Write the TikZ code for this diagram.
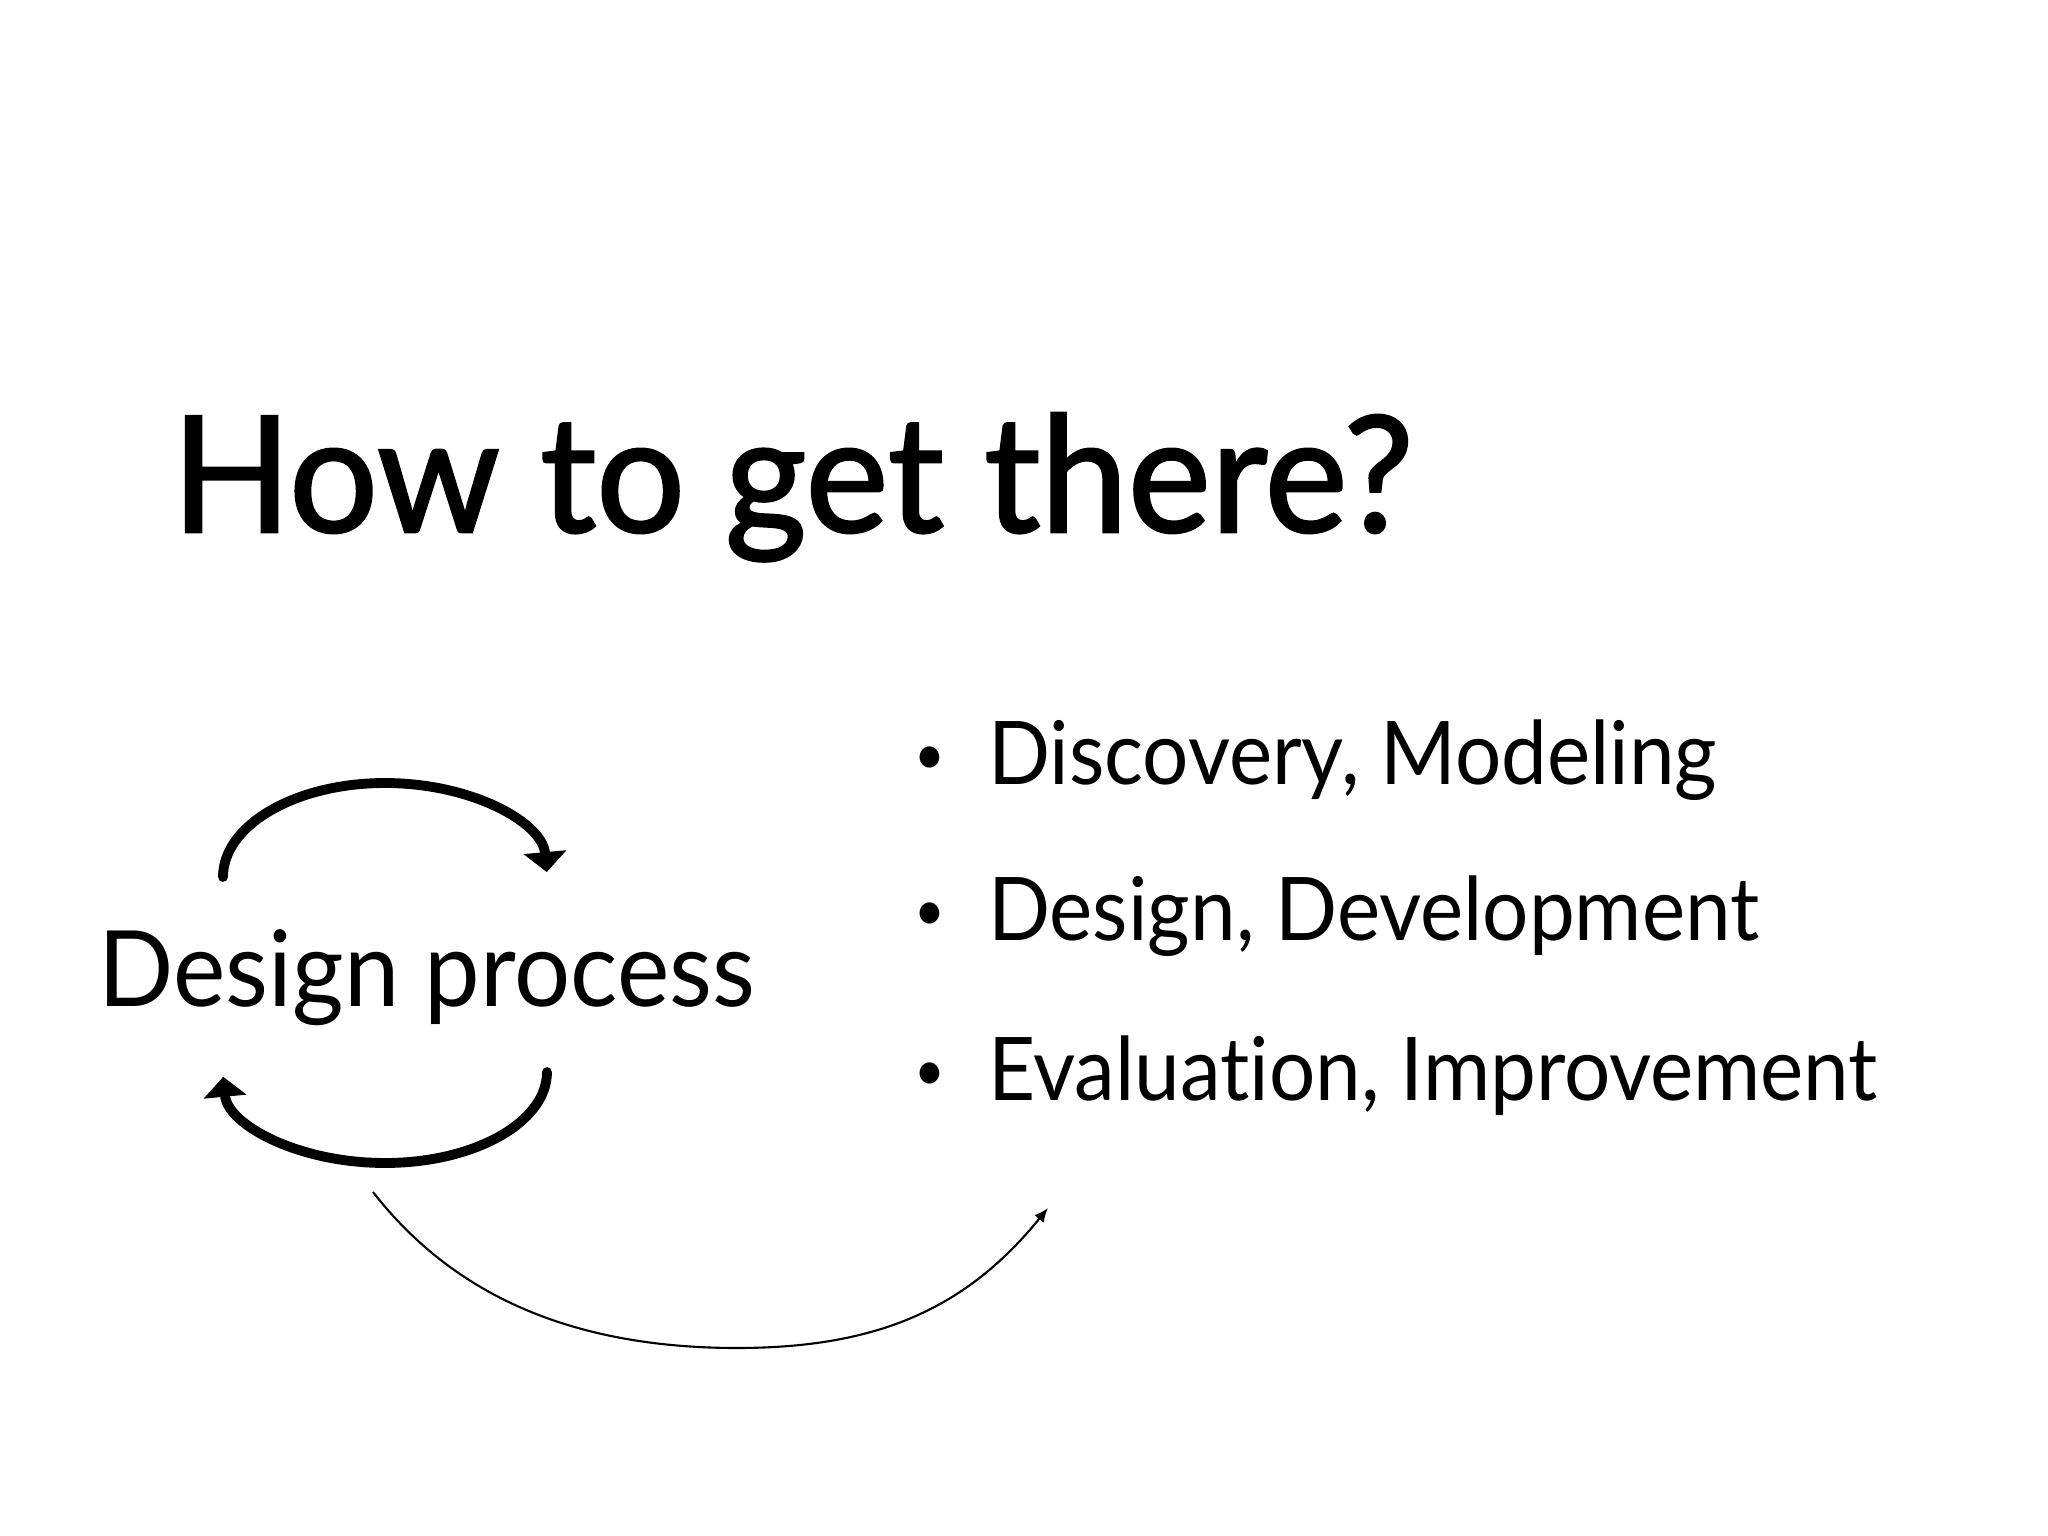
\documentclass[tikz,border=0pt]{standalone}
\usepackage{fontspec}
\setmainfont{Lato}[Ligatures=NoCommon]
\newfontfamily\headfont{Lato}[FakeBold=1.6,Ligatures=NoCommon]
\usepackage{tikz}
\usetikzlibrary{arrows.meta}
\usetikzlibrary{positioning}
\tikzstyle{heading}=[inner sep=0pt,anchor=base west,xscale=0.97,font=\headfont\fontsize{46}{50}\selectfont]
\tikzstyle{process}=[inner sep=0pt,anchor=base west,xscale=0.94,font=\fontsize{30}{34}\selectfont]
\tikzstyle{point}=[inner sep=0pt,anchor=base west,xscale=0.93,font=\fontsize{25}{30}\selectfont]
\tikzstyle{turn}=[-{Triangle[length=2mm,width=4.2mm]},line width=2.8pt,line cap=round]
\tikzstyle{suite}=[-{Latex[length=1.4mm,width=1.2mm]},line width=0.6pt]
\newcommand{\puce}{\makebox[0.79cm][l]{\raisebox{0.11em}{\scalebox{0.65}{\textbullet}}}}

\begin{document}
\begin{tikzpicture}
\useasboundingbox (0,0) rectangle (20.48,-15.36);
\node[heading] (title) at (1.71,-5.32) {How to get there?};
\node[process] (design) at (0.98,-10.06) {Design process};
\node[point] (p1) at (9.14,-7.84) {\puce Discovery, Modeling};
\node[point] (p2) at (9.14,-9.40) {\puce Design, Development};
\node[point] (p3) at (9.14,-11.00) {\puce Evaluation, Improvement};
%Points des fleches
\coordinate (up) at (2.23,-8.77);
\coordinate (down) at (5.47,-10.72);
\coordinate (from) at (3.73,-11.92);
\coordinate (low) at (7.37,-13.48);
\coordinate (to) at (10.48,-12.08);
\draw[turn] (up) arc[start angle=180,end angle=3,x radius=1.62,y radius=0.94];
\draw[turn] (down) arc[start angle=0,end angle=-177,x radius=1.62,y radius=0.91];
\draw[suite] (from) .. controls (4.47,-12.87) and (5.60,-13.48) .. (low)
  .. controls (8.77,-13.48) and (9.66,-13.09) .. (to);
\end{tikzpicture}
\end{document}
